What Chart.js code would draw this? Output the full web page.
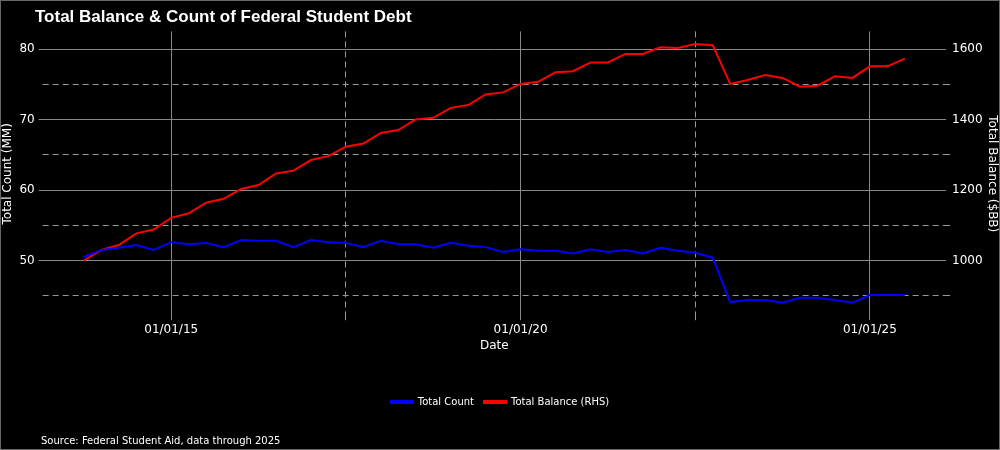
<!DOCTYPE html>
<html><head><meta charset="utf-8">
<script src="https://cdn.jsdelivr.net/npm/chart.js@4"></script>
<style>html,body{margin:0;background:#000;}#w{width:998px;height:448px;border:1px solid #666;}</style>
</head><body><div id="w"><canvas id="c"></canvas></div>
<script>
const startYear = 2013.75; // first quarter (Sep 2013), quarterly
const totalCount = [50.5,51.5,51.8,52.2,51.5,52.6,52.3,52.5,51.9,52.9,52.8,52.8,51.9,52.9,52.6,52.5,51.9,52.8,52.3,52.3,51.8,52.5,52.1,51.9,51.2,51.6,51.4,51.4,51.0,51.6,51.2,51.5,51.0,51.8,51.4,51.1,50.4,44.1,44.4,44.4,44.0,44.7,44.7,44.4,44.0,45.1,45.1,45.1];
const totalBalance = [1000,1030,1044,1077,1088,1121,1134,1164,1175,1203,1214,1247,1255,1285,1296,1323,1332,1362,1370,1400,1405,1433,1441,1471,1477,1501,1507,1534,1537,1562,1562,1586,1586,1605,1603,1614,1611,1501,1512,1526,1518,1493,1496,1523,1518,1551,1551,1573];
const xTicks = [2015,2017.5,2020,2022.5,2025];
const xTickLabels = {2015:'01/01/15',2020:'01/01/20',2025:'01/01/25'};

const dates = totalCount.map((_, i) => startYear + 0.25 * i);
const font = {family:'DejaVu Sans', size:12};
const titlePad = {
  id:'titlePad',
  beforeInit(chart){}
};
new Chart(document.getElementById('c'), {
  type:'line',
  data:{datasets:[
    {label:'Total Count', data:dates.map((x,i)=>({x, y:totalCount[i]})), borderColor:'#0000ff', backgroundColor:'#0000ff', borderWidth:2, pointRadius:0, yAxisID:'y'},
    {label:'Total Balance (RHS)', data:dates.map((x,i)=>({x, y:totalBalance[i]})), borderColor:'#ff0000', backgroundColor:'#ff0000', borderWidth:2, pointRadius:0, yAxisID:'y1'}
  ]},
  options:{
    responsive:true, maintainAspectRatio:false, animation:false,
    layout:{padding:{left:0,right:0,top:0,bottom:0}},
    plugins:{
      title:{display:true, text:'\u2003\u2003Total Balance & Count of Federal Student Debt', align:'start', color:'#fff', font:{family:'Liberation Sans', size:17, weight:'bold'}, padding:{top:6,bottom:4}},
      subtitle:{display:true, position:'bottom', align:'start', text:'\u2003\u2003\u2003\u2003Source: Federal Student Aid, data through 2025', color:'#fff', font:{family:'DejaVu Sans', size:10}, padding:{top:18,bottom:2}},
      legend:{position:'bottom', labels:{color:'#fff', font:{family:'DejaVu Sans', size:10}, boxWidth:22, boxHeight:2, padding:10}},
      tooltip:{enabled:false}
    },
    scales:{
      x:{type:'linear', min:2013.16, max:2026.09,
        afterBuildTicks:(s)=>{s.ticks = xTicks.map(v=>({value:v}));},
        ticks:{color:'#fff', font, autoSkip:false, maxRotation:0, padding:2, callback:(v)=>xTickLabels[v]||''},
        grid:{color:(c)=>c.tick && (c.tick.value%5===0) ? '#888' : '#999', drawTicks:true, tickLength:4},
        border:{display:false, dash:(c)=>c.tick && (c.tick.value%5!==0) ? [6,4] : []},
        title:{display:true, text:'Date', color:'#fff', font, padding:{top:0,bottom:34}}
      },
      y:{position:'left', min:42.1, max:82.5,
        afterBuildTicks:(s)=>{s.ticks=[50,60,70,80].map(v=>({value:v}));},
        ticks:{color:'#fff', font, padding:4},
        grid:{color:'#888', tickLength:4}, border:{display:false},
        title:{display:true, text:'Total Count (MM)', color:'#fff', font, padding:{top:0,bottom:0}}
      },
      y1:{position:'right', min:842, max:1650,
        afterBuildTicks:(s)=>{s.ticks=[900,1000,1100,1200,1300,1400,1500,1600].map(v=>({value:v}));},
        ticks:{color:'#fff', font, padding:2, callback:(v)=> v%200===0 ? String(v) : ''},
        grid:{color:(c)=>c.tick && c.tick.value%200!==0 ? '#999' : 'rgba(0,0,0,0)', tickLength:4},
        border:{display:false, dash:[6,4]},
        title:{display:true, text:'Total Balance ($BB)', color:'#fff', font, padding:{top:0,bottom:0}}
      }
    }
  }
});
</script></body></html>
